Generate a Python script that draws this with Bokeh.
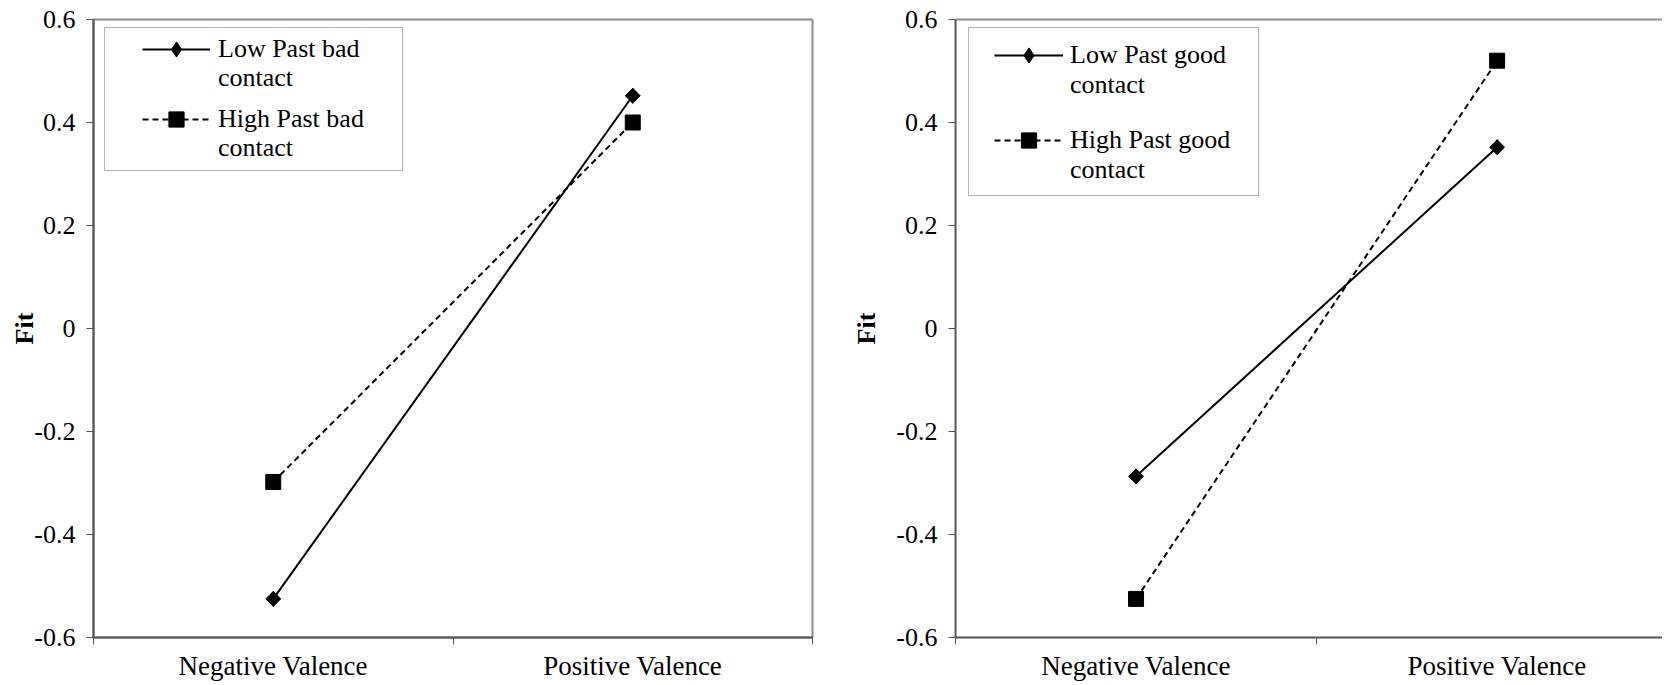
from bokeh.plotting import figure
from bokeh.models import (Range1d, FixedTicker, Legend, LegendItem, LinearAxis,
                          BoxAnnotation)
from bokeh.layouts import row
from bokeh.embed import file_html
from bokeh.resources import INLINE

# ---- data ----
categories = ["Negative Valence", "Positive Valence"]
y_ticks = [-0.6, -0.4, -0.2, 0, 0.2, 0.4, 0.6]
y_tick_labels = ["-0.6", "-0.4", "-0.2", "0", "0.2", "0.4", "0.6"]

bad_series = ["Low Past bad", "High Past bad"]
bad_low = [-0.525, 0.452]
bad_high = [-0.298, 0.400]

good_series = ["Low Past good", "High Past good"]
good_low = [-0.287, 0.352]
good_high = [-0.525, 0.520]

label_tail = "contact"

FONT = "Liberation Serif"
FS = "26px"
AXIS_COLOR = "#555555"
BORDER_COLOR = "#8c8c8c"

x_pos = [i + 0.5 for i in range(len(categories))]
cat_bounds = [i for i in range(len(categories) + 1)]


def legend(items, loc, spacing, gw, standoff):
    return Legend(items=items, location=loc, border_line_color=None,
                  background_fill_alpha=0, padding=0, margin=0,
                  spacing=spacing, glyph_width=gw, glyph_height=38,
                  label_standoff=standoff, label_text_font=FONT,
                  label_text_font_size=FS, label_text_color="black")


def make_fig(width, height, xmax, mb_left, mb_right, mb_top, mb_bottom,
             labels, low, high, box, main_loc, tail_loc, spacing, gw, standoff,
             fit_standoff, top_border_only):
    p = figure(width=width, height=height, x_range=Range1d(0, xmax),
               y_range=Range1d(-0.6, 0.6), output_backend="svg",
               toolbar_location=None, min_border_left=mb_left,
               min_border_right=mb_right, min_border_top=mb_top,
               min_border_bottom=mb_bottom)
    p.xgrid.visible = False
    p.ygrid.visible = False
    p.background_fill_color = "white"
    p.border_fill_color = "white"

    # x axis: labels centred in categories, ticks at category bounds
    xa = p.xaxis[0]
    xa.ticker = FixedTicker(ticks=x_pos, minor_ticks=cat_bounds)
    xa.major_label_overrides = {x: c for x, c in zip(x_pos, categories)}
    xa.major_tick_line_color = None
    xa.minor_tick_line_color = AXIS_COLOR
    xa.minor_tick_line_width = 1
    xa.minor_tick_out = 7
    xa.minor_tick_in = 0
    xa.major_label_standoff = 6
    xa.major_label_text_font = FONT
    xa.major_label_text_font_size = "27px"
    xa.major_label_text_color = "black"
    xa.axis_line_color = AXIS_COLOR
    xa.axis_line_width = 2

    # y axis
    ya = p.yaxis[0]
    ya.ticker = FixedTicker(ticks=y_ticks, minor_ticks=[])
    ya.major_label_overrides = {t: l for t, l in zip(y_ticks, y_tick_labels)}
    ya.major_tick_line_color = AXIS_COLOR
    ya.major_tick_line_width = 1
    ya.major_tick_out = 7
    ya.major_tick_in = 0
    ya.major_label_standoff = 11
    ya.major_label_text_font = FONT
    ya.major_label_text_font_size = FS
    ya.major_label_text_color = "black"
    ya.axis_line_color = AXIS_COLOR
    ya.axis_line_width = 2
    ya.axis_label = "Fit"
    ya.axis_label_text_font = FONT
    ya.axis_label_text_font_style = "bold"
    ya.axis_label_text_font_size = FS
    ya.axis_label_text_color = "black"
    ya.axis_label_standoff = fit_standoff

    if top_border_only:
        p.outline_line_color = None
        top = LinearAxis(ticker=FixedTicker(ticks=[]), major_label_text_font_size="0px",
                         axis_line_color=BORDER_COLOR, axis_line_width=2,
                         major_tick_line_color=None, minor_tick_line_color=None)
        p.add_layout(top, "above")
    else:
        p.outline_line_color = BORDER_COLOR
        p.outline_line_width = 2

    r1 = p.line(x_pos, low, line_color="black", line_width=2)
    p.scatter(x_pos, low, marker="square", angle=0.785398, size=10.5,
              fill_color="black", line_color="black")
    # diamond drawn inside the rotated square; it is what the legend shows
    m1 = p.scatter(x_pos, low, marker="diamond", size=15,
                   fill_color="black", line_color="black")
    r2 = p.line(x_pos, high, line_color="black", line_width=2, line_dash="6 4")
    m2 = p.scatter(x_pos, high, marker="square", size=15,
                   fill_color="black", line_color="black")
    blank = p.line([], [], line_alpha=0)

    bl, br, bt, bb = box
    p.add_layout(BoxAnnotation(left=bl, right=br, top=bt, bottom=bb,
                               left_units="screen", right_units="screen",
                               top_units="screen", bottom_units="screen",
                               fill_color="white", fill_alpha=1,
                               line_color="black", line_width=1))

    main = legend([LegendItem(label=labels[0], renderers=[r1, m1]),
                   LegendItem(label=labels[1], renderers=[r2, m2])],
                  main_loc, spacing, gw, standoff)
    tail = legend([LegendItem(label=label_tail, renderers=[blank]),
                   LegendItem(label=label_tail, renderers=[blank])],
                  tail_loc, spacing, gw, standoff)
    p.add_layout(main, "center")
    p.add_layout(tail, "center")
    return p


left = make_fig(845, 684, 2, 93, 33, 19, 47, bad_series, bad_low, bad_high,
                (11, 309, 610, 467), (49, 499), (49, 470), 32, 68, 8, -8, False)
right = make_fig(817, 684, 1.958, 110, 0, 17, 47, good_series, good_low, good_high,
                 (13, 303, 610, 442), (39, 478), (39, 448), 47, 69, 7, 12, True)

layout = row(left, right, spacing=0)
open("out.html", "w").write(file_html(layout, INLINE))
